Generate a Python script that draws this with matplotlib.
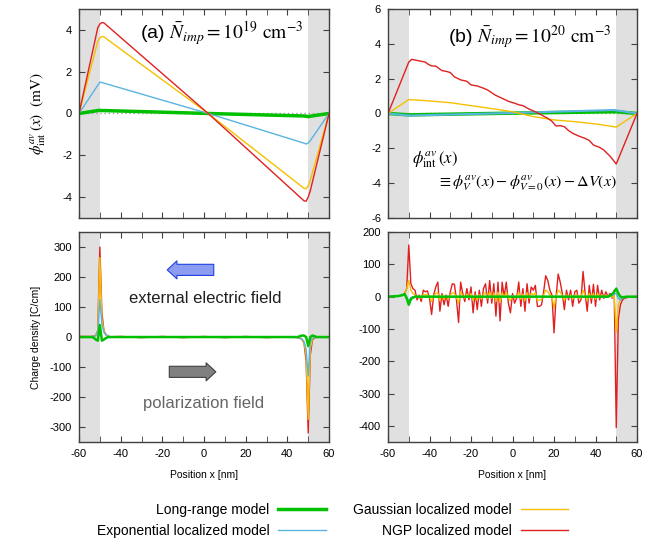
import matplotlib
matplotlib.use("Agg")
import matplotlib.pyplot as plt
from matplotlib.lines import Line2D
import numpy as np

plt.rcParams['font.family'] = ['Liberation Sans', 'DejaVu Sans']
plt.rcParams['mathtext.fontset'] = 'stix'
plt.rcParams['axes.unicode_minus'] = False

# colours of the four models
c_long = '#00c000'
c_exp = '#5ab4e0'
c_gauss = '#f5c000'
c_ngp = '#e02020'

labels = ['Long-range model', 'Exponential localized model',
          'Gaussian localized model', 'NGP localized model']

# ---- (a) potential, 1e19 ----
xa_pot = [-60, -51, -50, -49, -48, 2, 48, 49, 50, 51, 60]
long_a = [0, 0.14, 0.15, 0.14, 0.14, 0, -0.12, -0.13, -0.15, -0.13, 0]
exp_a = [0, 1.35, 1.5, 1.48, 1.45, 0, -1.42, -1.46, -1.42, -1.3, 0]
gauss_a = [0, 3.45, 3.62, 3.68, 3.66, 0, -3.58, -3.6, -3.45, -3.2, 0]
ngp_a = [0, 4.1, 4.28, 4.35, 4.33, 0, -4.18, -4.2, -4.0, -3.7, 0]

# ---- (b) potential, 1e20 ----
xb_pot = [-60, -50, 0, 49, 50, 60]
long_b = [0, -0.08, 0.02, 0.1, 0.1, 0]
exp_b = [0, -0.12, 0.03, 0.2, 0.18, 0]
xb_gauss = [-60, -50, -40, -30, -20, -10, 0, 10, 20, 30, 40, 50, 60]
gauss_b = [0, 0.8, 0.72, 0.62, 0.45, 0.28, 0.1, -0.18, -0.37, -0.47, -0.6, -0.78, 0]
xb_ngp = [-60, -50, -48.6, -45, -42, -41, -39, -37, -34, -32, -30, -28, -25, -22,
          -20, -17, -14, -12, -8.4, -7, -5, -2, 1, 3, 5, 8, 11, 14, 17, 19, 21,
          23, 25, 27, 29, 32, 35, 37, 39, 42, 44, 47, 50, 60]
ngp_b = [0, 2.95, 3.11, 3.02, 2.95, 2.85, 2.73, 2.72, 2.46, 2.42, 2.35, 2.1, 1.93, 1.85,
         1.64, 1.58, 1.45, 1.35, 1.06, 0.98, 0.87, 0.7, 0.59, 0.5, 0.45, 0.25, 0.1, -0.09,
         -0.28, -0.45, -0.72, -0.7, -0.76, -0.98, -1.14, -1.3, -1.43, -1.55, -1.81, -1.95,
         -2.1, -2.45, -2.9, 0]

# ---- (a) charge density ----
xa_rho = [-60, -54, -53, -52, -51, -50, -49, -48, -47, -46, -45, -40, -30, -20,
          -10, 0, 10, 20, 30, 40, 45, 46, 47, 48, 49, 50, 51, 52, 53, 54, 60]
long_rho_a = [0, 0, -2, -8, -12, 40, -12, -8, -3, 0, 0, 0, 0, 0,
              0, 0, 0, 0, 0, 0, 0, 3, 5, 5, 0, -30, 0, 5, 3, 0, 0]
exp_rho_a = [0, 1, 2, 4, 15, 125, 40, 15, 6, 3, 1, 0, 0, 0,
             0, 0, 0, 0, 0, 0, -1, -3, -6, -15, -40, -130, -15, -4, -2, -1, 0]
gauss_rho_a = [0, 1, 2, 4, 20, 265, 60, 18, 7, 3, 1, 0, 0, 0,
               0, 0, 0, 0, 0, 0, -1, -3, -7, -18, -60, -275, -40, -6, -2, -1, 0]
ngp_rho_a = [2, 2, 3, 5, 22, 300, 80, 20, 8, 3, 1, 2, -2, 2,
             -2, 2, -2, 2, -2, 1, -2, -4, -8, -20, -80, -320, -60, -10, -3, -1, 0]

# ---- (b) charge density, 1 nm spacing from -60 to 60 ----
xb_rho = list(range(-60, 61))
ngp_rho_b = [0, 0, 0, 1, 1, 2, 3, 5, 10, 25,
             160, 40, 25, 20, -10, 5, -15, 20, 15, 18,
             -5, -55, 5, 30, 45, -45, 10, -25, 5, -30,
             15, 40, 38, -10, -80, 45, 10, -15, 25, -10,
             30, -50, 15, -40, 20, -30, 25, 40, -20, 50,
             -20, 40, -60, 45, -75, 45, 0, 45, -20, -50,
             10, -20, -5, 45, -30, 25, -45, 40, -20, 30,
             20, 35, -30, -30, -25, 15, 65, 50, 20, 5,
             -112, 0, 70, 45, 10, -40, 20, -10, 20, -30,
             15, 20, -20, -10, 78, 10, -45, 35, -20, 38,
             -30, 35, -10, 20, -5, 15, 0, 10, -5, 20,
             -405, -70, -25, -10, -5, -3, -2, -1, 0, 0,
             0]
gauss_rho_b = [0, 0, 0, 1, 1, 2, 3, 5, 10, 25,
               50, 20, 10, 5, -3, 3, -5, 8, 5, 6,
               0, -15, 2, 10, 12, -12, 4, -8, 2, -8,
               5, 12, 10, -3, -20, 15, 3, -5, 8, -3,
               10, -12, 5, -10, 6, -8, 8, 12, -5, 15,
               -5, 12, -15, 14, -18, 12, 0, 14, -5, -12,
               3, -5, -2, 14, -8, 8, -12, 12, -5, 10,
               6, 12, -12, -10, -8, 5, 20, 15, 6, 2,
               -35, 0, 20, 14, 3, -12, 6, -3, 6, -8,
               5, 6, -5, -3, 20, 3, -12, 10, -5, 10,
               -8, 10, -3, 6, -2, 5, 0, 3, -2, 5,
               -110, -25, -8, -3, -2, -1, -1, 0, 0, 0,
               0]
xb_rho_s = [-60, -55, -53, -52, -51, -50, -49, -48, -47, 0, 46, 47, 48, 49, 50, 51, 52, 53, 55, 60]
long_rho_b = [0, 2, 5, 8, -5, -25, -8, -3, 0, 0, 0, 3, 8, 15, 25, 10, 0, -2, 0, 0]
exp_rho_b = [0, 2, 5, 8, -2, -15, -3, -1, 0, 0, 0, 2, 4, 8, 10, -5, -10, -4, -1, 0]

fig = plt.figure(figsize=(6.65, 5.51), dpi=100)
ax1 = fig.add_axes([0.1188, 0.6044, 0.376, 0.3793])
ax2 = fig.add_axes([0.5835, 0.6044, 0.3744, 0.3793])
ax3 = fig.add_axes([0.1188, 0.1978, 0.376, 0.381])
ax4 = fig.add_axes([0.5835, 0.1978, 0.3744, 0.381])

for ax in (ax1, ax2, ax3, ax4):
    ax.axvspan(-60, -50, color='#e0e0e0', lw=0, zorder=0)
    ax.axvspan(50, 60, color='#e0e0e0', lw=0, zorder=0)
    ax.set_xlim(-60, 60)
    ax.set_xticks(np.arange(-60, 61, 20))
    ax.set_xticks(np.arange(-50, 61, 20), minor=True)
    ax.tick_params(which='both', direction='in', top=True, right=True, length=4,
                   labelsize=8, color='#404040', pad=5)
    for s in ax.spines.values():
        s.set_color('#404040')
        s.set_linewidth(1.0)

for ax in (ax1, ax2):
    ax.axhline(0, color='#a0a0a0', lw=1, ls=(0, (1, 2)), zorder=1)
    ax.tick_params(labelbottom=False)

# (a) potential
ax1.plot(xa_pot, long_a, color=c_long, lw=2.5)
ax1.plot(xa_pot, exp_a, color=c_exp, lw=1)
ax1.plot(xa_pot, gauss_a, color=c_gauss, lw=1)
ax1.plot(xa_pot, ngp_a, color=c_ngp, lw=1)
ax1.set_ylim(-5, 5)
ax1.set_yticks([-4, -2, 0, 2, 4])
ax1.set_ylabel(r'$\phi^{av}_{\mathrm{int}}\,(x)\ \ (\mathrm{mV})$', fontsize=11, labelpad=10)
ax1.text(8.5, 3.85, r'(a) $\bar{N}_{imp}=10^{19}\ \mathrm{cm}^{-3}$', fontsize=14,
         ha='center', va='center')

# (b) potential
ax2.plot(xb_pot, long_b, color=c_long, lw=2.5)
ax2.plot(xb_pot, exp_b, color=c_exp, lw=1.5)
ax2.plot(xb_gauss, gauss_b, color=c_gauss, lw=1)
ax2.plot(xb_ngp, ngp_b, color=c_ngp, lw=1)
ax2.set_ylim(-6, 6)
ax2.set_yticks(np.arange(-6, 7, 2))
ax2.text(8.4, 4.4, r'(b) $\bar{N}_{imp}=10^{20}\ \mathrm{cm}^{-3}$', fontsize=14,
         ha='center', va='center')
ax2.text(-48.6, -2.67, r'$\phi^{av}_{\mathrm{int}}\,(x)$', fontsize=12, ha='left', va='center')
ax2.text(6.8, -4.0, r'$\equiv\phi^{av}_{V}(x)-\phi^{av}_{V=0}(x)-\Delta V(x)$',
         fontsize=11.5, ha='center', va='center')

# (a) charge density
ax3.plot(xa_rho, ngp_rho_a, color=c_ngp, lw=1)
ax3.plot(xa_rho, gauss_rho_a, color=c_gauss, lw=1)
ax3.plot(xa_rho, exp_rho_a, color=c_exp, lw=1)
ax3.plot(xa_rho, long_rho_a, color=c_long, lw=1.8)
ax3.set_ylim(-350, 350)
ax3.set_yticks(np.arange(-300, 301, 100))
ax3.set_ylabel('Charge density [C/cm]', fontsize=7.5, labelpad=6)
ax3.set_xlabel('Position x [nm]', fontsize=7.5, labelpad=8)
ax3.annotate('', xy=(-19, 224), xytext=(6, 224),
             arrowprops=dict(arrowstyle='simple,head_length=0.7,head_width=1.3,tail_width=0.8',
                             fc='#8c9cf0', ec='#2040e0', lw=0.8))
ax3.text(0.5, 127, 'external electric field', fontsize=12, ha='center', va='center',
         color='#202020')
ax3.annotate('', xy=(7, -116), xytext=(-18, -116),
             arrowprops=dict(arrowstyle='simple,head_length=0.7,head_width=1.3,tail_width=0.8',
                             fc='#808080', ec='#404040', lw=0.8))
ax3.text(0, -221, 'polarization field', fontsize=12, ha='center', va='center',
         color='#666666')

# (b) charge density
ax4.plot(xb_rho, ngp_rho_b, color=c_ngp, lw=1)
ax4.plot(xb_rho, gauss_rho_b, color=c_gauss, lw=1)
ax4.plot(xb_rho_s, exp_rho_b, color=c_exp, lw=1.2)
ax4.plot(xb_rho_s, long_rho_b, color=c_long, lw=1.8)
ax4.set_ylim(-450, 200)
ax4.set_yticks(np.arange(-400, 201, 100))
ax4.set_xlabel('Position x [nm]', fontsize=7.5, labelpad=8)

handles = [Line2D([], [], color=c_long, lw=2.5),
           Line2D([], [], color=c_exp, lw=1),
           Line2D([], [], color=c_gauss, lw=1),
           Line2D([], [], color=c_ngp, lw=1)]
fig.legend(handles, labels, loc='center', bbox_to_anchor=(0.5, 0.0555), ncol=2,
           frameon=False, markerfirst=False, fontsize=10, handlelength=3.4,
           handletextpad=0.65, columnspacing=2.0, labelspacing=0.45)

fig.savefig('out.png', dpi=100)
